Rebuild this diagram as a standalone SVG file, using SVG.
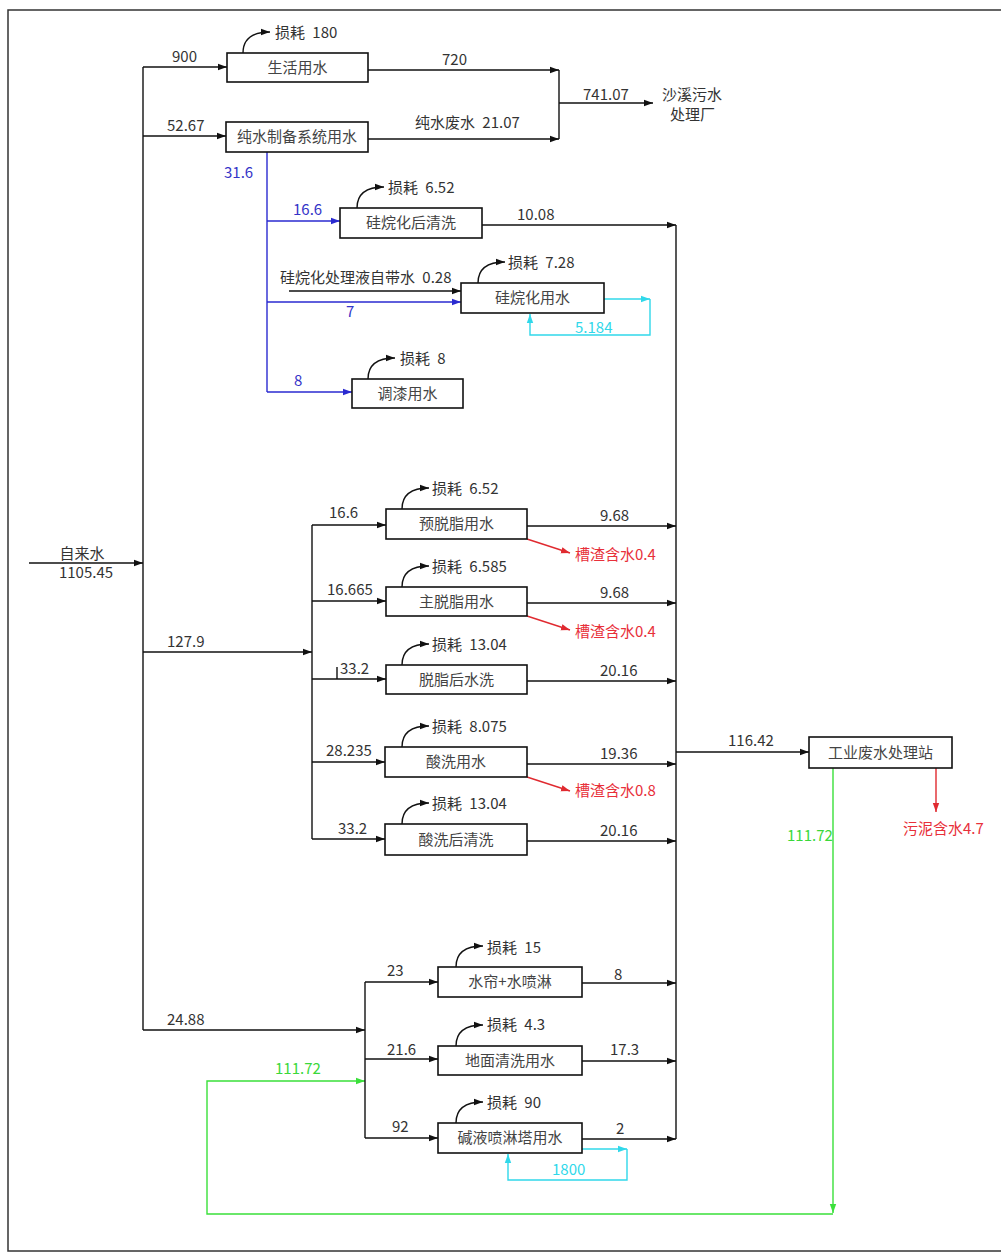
<svg xmlns="http://www.w3.org/2000/svg" width="1001" height="1253" viewBox="0 0 1001 1253">
<defs>
<marker id="ak" markerUnits="userSpaceOnUse" markerWidth="10" markerHeight="8" refX="9" refY="4" orient="auto"><path d="M0,0.8 L9,4 L0,7.2 Z" fill="#111"/></marker>
<marker id="ab" markerUnits="userSpaceOnUse" markerWidth="10" markerHeight="8" refX="9" refY="4" orient="auto"><path d="M0,0.8 L9,4 L0,7.2 Z" fill="#2a2ad0"/></marker>
<marker id="ac" markerUnits="userSpaceOnUse" markerWidth="10" markerHeight="8" refX="9" refY="4" orient="auto"><path d="M0,0.8 L9,4 L0,7.2 Z" fill="#30d8ea"/></marker>
<marker id="ag" markerUnits="userSpaceOnUse" markerWidth="10" markerHeight="8" refX="9" refY="4" orient="auto"><path d="M0,0.8 L9,4 L0,7.2 Z" fill="#3ae03a"/></marker>
<marker id="ar" markerUnits="userSpaceOnUse" markerWidth="10" markerHeight="8" refX="9" refY="4" orient="auto"><path d="M0,0.8 L9,4 L0,7.2 Z" fill="#e02a30"/></marker>
</defs>
<style>
text{font-family:"Noto Sans CJK SC","Noto Sans",sans-serif;font-size:15px;fill:#333;word-spacing:4px}
.box rect{fill:#fff;stroke:#111;stroke-width:1.6}
.box text{text-anchor:middle;fill:#444}
.c path{fill:none;stroke-width:1.4}
.k{stroke:#111}
.k.a{marker-end:url(#ak)}
.b{stroke:#2a2ad0}
.b.a{marker-end:url(#ab)}
.cy{stroke:#30d8ea}
.cy.a{marker-end:url(#ac)}
.g{stroke:#3ae03a}
.g.a{marker-end:url(#ag)}
.r{stroke:#e02a30}
.r.a{marker-end:url(#ar)}
.tb{fill:#3434c8}
.tc{fill:#30d8ea}
.tg{fill:#3ad83a}
.tr{fill:#e8303a}
</style>
<rect x="8" y="10" width="1000" height="1241" fill="none" stroke="#333" stroke-width="1.5"/>

<g class="c" id="connectors">
<path class="k" d="M143 67 V1030"/>
<path class="k a" d="M29 563 H143"/>
<path class="k a" d="M143 67 H227"/>
<path class="k a" d="M143 136 H226"/>
<path class="k a" d="M143 652 H312"/>
<path class="k a" d="M143 1030 H365"/>
<path class="k a" d="M368 70 H559"/>
<path class="k a" d="M368 139 H559"/>
<path class="k" d="M559 70 V139"/>
<path class="k a" d="M559 103 H653"/>
<path class="b" d="M267 152 V392"/>
<path class="b a" d="M267 221 H340"/>
<path class="b a" d="M267 302 H461"/>
<path class="b a" d="M267 392 H352"/>
<path class="k a" d="M289 291 H461"/>
<path class="cy a" d="M604 299 H650"/>
<path class="cy a" d="M650 299 V335 H530 V314"/>
<path class="k a" d="M482 225 H676"/>
<path class="k" d="M676 225 V1139"/>
<path class="k" d="M312 525 V839"/>
<path class="k a" d="M312 525 H386"/>
<path class="k a" d="M312 601 H386"/>
<path class="k a" d="M312 679 H386"/>
<path class="k" d="M337 667 V679"/>
<path class="k a" d="M312 762 H385"/>
<path class="k a" d="M312 839 H385"/>
<path class="k a" d="M527 526 H676"/>
<path class="k a" d="M527 603 H676"/>
<path class="k a" d="M527 681 H676"/>
<path class="k a" d="M527 764 H676"/>
<path class="k a" d="M527 841 H676"/>
<path class="r a" d="M527 539 L570 553"/>
<path class="r a" d="M527 616 L570 630"/>
<path class="r a" d="M527 777 L570 791"/>
<path class="k a" d="M676 752 H809"/>
<path class="r a" d="M936 768 V812"/>
<path class="g a" d="M833 768 V1213"/>
<path class="g a" d="M833 1214 H207 V1081 H365"/>
<path class="k" d="M365 982 V1138"/>
<path class="k a" d="M365 982 H438"/>
<path class="k a" d="M365 1059 H438"/>
<path class="k a" d="M365 1138 H438"/>
<path class="k a" d="M582 983 H676"/>
<path class="k a" d="M582 1061 H676"/>
<path class="k a" d="M582 1139 H676"/>
<path class="cy a" d="M582 1149 H627"/>
<path class="cy a" d="M627 1149 V1180 H508 V1154"/>
<path class="k a" d="M243 53 c0 -14 9 -21 27 -21"/>
<path class="k a" d="M357 208 c0 -14 9 -21 27 -21"/>
<path class="k a" d="M478 283 c0 -14 9 -21 27 -21"/>
<path class="k a" d="M368 379 c0 -14 9 -21 27 -21"/>
<path class="k a" d="M402 509 c0 -14 9 -21 27 -21"/>
<path class="k a" d="M402 587 c0 -14 9 -21 27 -21"/>
<path class="k a" d="M402 665 c0 -14 9 -21 27 -21"/>
<path class="k a" d="M402 747 c0 -14 9 -21 27 -21"/>
<path class="k a" d="M402 824 c0 -14 9 -21 27 -21"/>
<path class="k a" d="M456 967 c0 -14 9 -21 27 -21"/>
<path class="k a" d="M456 1046 c0 -14 9 -21 27 -21"/>
<path class="k a" d="M456 1123 c0 -14 9 -21 27 -21"/>
</g>

<g class="box" id="n-shenghuo"><rect x="227" y="53" width="141" height="29"/><text x="297.5" y="73">生活用水</text></g>
<g class="box" id="n-chunshui"><rect x="226" y="122" width="142" height="30"/><text x="297" y="142">纯水制备系统用水</text></g>
<g class="box" id="n-guiwanhouqingxi"><rect x="340" y="208" width="142" height="30"/><text x="411" y="228">硅烷化后清洗</text></g>
<g class="box" id="n-guiwanhua"><rect x="461" y="283" width="143" height="30"/><text x="532.5" y="303">硅烷化用水</text></g>
<g class="box" id="n-tiaoqi"><rect x="352" y="379" width="111" height="29"/><text x="407.5" y="399">调漆用水</text></g>
<g class="box" id="n-yutuozhi"><rect x="386" y="509" width="141" height="30"/><text x="456.5" y="529">预脱脂用水</text></g>
<g class="box" id="n-zhutuozhi"><rect x="386" y="587" width="141" height="29"/><text x="456.5" y="607">主脱脂用水</text></g>
<g class="box" id="n-tuozhihou"><rect x="386" y="665" width="141" height="29"/><text x="456.5" y="685">脱脂后水洗</text></g>
<g class="box" id="n-suanxi"><rect x="385" y="747" width="142" height="30"/><text x="456" y="767">酸洗用水</text></g>
<g class="box" id="n-suanxihou"><rect x="385" y="824" width="142" height="31"/><text x="456" y="845">酸洗后清洗</text></g>
<g class="box" id="n-feishuizhan"><rect x="809" y="737" width="143" height="31"/><text x="880.5" y="758">工业废水处理站</text></g>
<g class="box" id="n-shuilian"><rect x="438" y="967" width="144" height="30"/><text x="510" y="987">水帘+水喷淋</text></g>
<g class="box" id="n-dimian"><rect x="438" y="1046" width="144" height="29"/><text x="510" y="1066">地面清洗用水</text></g>
<g class="box" id="n-jianye"><rect x="438" y="1123" width="144" height="30"/><text x="510" y="1143">碱液喷淋塔用水</text></g>

<g id="n-shaxi"><text x="662" y="100">沙溪污水</text><text x="670" y="120">处理厂</text></g>
<g id="n-zilaishui"><text x="82" y="559" text-anchor="middle">自来水</text><text x="86" y="578" text-anchor="middle">1105.45</text></g>
<g id="n-wuni"><text class="tr" x="903" y="834">污泥含水4.7</text></g>
<g id="n-caozha1"><text class="tr" x="575" y="560">槽渣含水0.4</text></g>
<g id="n-caozha2"><text class="tr" x="575" y="637">槽渣含水0.4</text></g>
<g id="n-caozha3"><text class="tr" x="575" y="796">槽渣含水0.8</text></g>

<g id="labels">
<text x="275" y="38">损耗 180</text>
<text x="388" y="193">损耗 6.52</text>
<text x="508" y="268">损耗 7.28</text>
<text x="400" y="364">损耗 8</text>
<text x="432" y="494">损耗 6.52</text>
<text x="432" y="572">损耗 6.585</text>
<text x="432" y="650">损耗 13.04</text>
<text x="432" y="732">损耗 8.075</text>
<text x="432" y="809">损耗 13.04</text>
<text x="487" y="953">损耗 15</text>
<text x="487" y="1030">损耗 4.3</text>
<text x="487" y="1108">损耗 90</text>

<text x="172" y="62">900</text>
<text x="442" y="65">720</text>
<text x="167" y="131">52.67</text>
<text x="415" y="128">纯水废水 21.07</text>
<text x="583" y="100">741.07</text>
<text class="tb" x="224" y="178">31.6</text>
<text class="tb" x="293" y="215">16.6</text>
<text x="517" y="220">10.08</text>
<text x="280" y="283">硅烷化处理液自带水 0.28</text>
<text class="tb" x="346" y="317">7</text>
<text class="tc" x="575" y="333">5.184</text>
<text class="tb" x="294" y="386">8</text>
<text x="167" y="647">127.9</text>
<text x="329" y="518">16.6</text>
<text x="600" y="521">9.68</text>
<text x="327" y="595">16.665</text>
<text x="600" y="598">9.68</text>
<text x="340" y="674">33.2</text>
<text x="600" y="676">20.16</text>
<text x="326" y="756">28.235</text>
<text x="600" y="759">19.36</text>
<text x="338" y="834">33.2</text>
<text x="600" y="836">20.16</text>
<text x="728" y="746">116.42</text>
<text class="tg" x="787" y="841">111.72</text>
<text x="387" y="976">23</text>
<text x="614" y="980">8</text>
<text x="167" y="1025">24.88</text>
<text x="387" y="1055">21.6</text>
<text x="610" y="1055">17.3</text>
<text class="tg" x="275" y="1074">111.72</text>
<text x="392" y="1132">92</text>
<text x="616" y="1134">2</text>
<text class="tc" x="552" y="1175">1800</text>
</g>
</svg>
